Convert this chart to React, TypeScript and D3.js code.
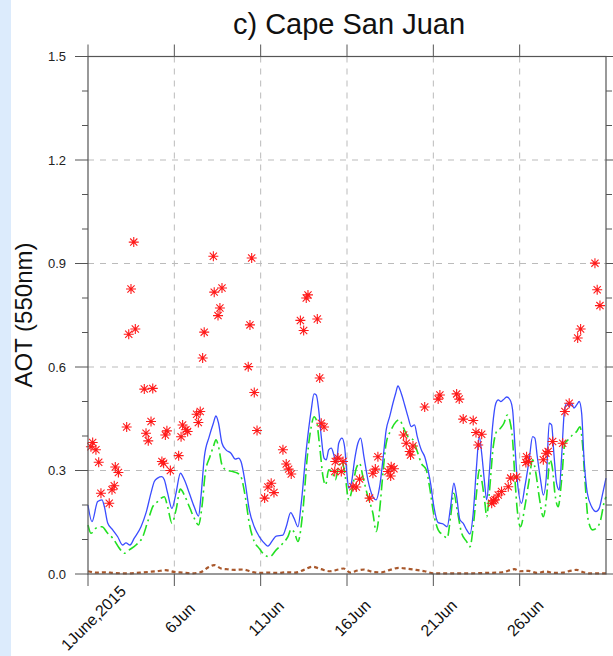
import React from 'react';
import * as d3 from 'd3';

const W = 613;
const H = 656;
const left = 88;
const right = 606;
const top = 56.5;
const bottom = 574;
const font = '"Liberation Sans", Arial, Helvetica, sans-serif';

// day offsets from 1 June 2015
const tickDays = [0, 5, 10, 15, 20, 25];
const tickLabels = ['1June,2015', '6Jun', '11Jun', '16Jun', '21Jun', '26Jun'];
const yTicks = [0, 0.3, 0.6, 0.9, 1.2, 1.5];
const yLabels = ['0.0', '0.3', '0.6', '0.9', '1.2', '1.5'];
const yMinor = [0.1, 0.2, 0.4, 0.5, 0.7, 0.8, 1.0, 1.1, 1.3, 1.4];

// model total AOT (blue solid)
const modelTotal: [number, number][] = [
  [0, 0.2], [0.23, 0.152], [0.56, 0.21], [0.81, 0.215], [0.95, 0.195], [1.14, 0.148], [1.43, 0.128],
  [1.72, 0.108], [2.0, 0.084], [2.2, 0.09], [2.43, 0.084], [2.68, 0.104], [3.07, 0.137], [3.36, 0.177],
  [3.65, 0.235], [3.84, 0.268], [4.03, 0.278], [4.28, 0.282], [4.42, 0.273], [4.61, 0.235], [4.86, 0.19],
  [5.1, 0.235], [5.35, 0.292], [5.58, 0.273], [5.87, 0.234], [6.15, 0.195], [6.4, 0.168], [6.54, 0.224],
  [6.74, 0.34], [7.02, 0.398], [7.26, 0.437], [7.41, 0.458], [7.56, 0.437], [7.76, 0.379], [7.99, 0.36],
  [8.28, 0.35], [8.53, 0.333], [8.72, 0.336], [8.86, 0.326], [9.11, 0.263], [9.34, 0.186], [9.63, 0.137],
  [9.9, 0.11], [10.13, 0.094], [10.42, 0.081], [10.71, 0.099], [10.9, 0.11], [11.29, 0.113], [11.48, 0.137],
  [11.74, 0.178], [11.93, 0.162], [12.16, 0.137], [12.35, 0.205], [12.64, 0.36], [12.93, 0.476],
  [13.09, 0.522], [13.22, 0.519], [13.36, 0.476], [13.51, 0.398], [13.67, 0.336], [13.8, 0.331],
  [13.94, 0.36], [14.09, 0.365], [14.24, 0.345], [14.38, 0.321], [14.52, 0.379], [14.71, 0.394],
  [14.86, 0.369], [14.96, 0.311], [15.1, 0.249], [15.25, 0.263], [15.44, 0.331], [15.63, 0.379],
  [15.79, 0.394], [15.98, 0.34], [16.21, 0.273], [16.5, 0.224], [16.69, 0.215], [16.89, 0.253],
  [17.08, 0.331], [17.27, 0.418], [17.47, 0.456], [17.66, 0.495], [17.82, 0.524], [17.95, 0.545],
  [18.14, 0.524], [18.34, 0.49], [18.53, 0.456], [18.72, 0.427], [18.91, 0.432], [19.07, 0.398],
  [19.3, 0.36], [19.5, 0.34], [19.69, 0.302], [19.85, 0.26], [20.0, 0.205], [20.28, 0.149], [20.57, 0.145],
  [20.8, 0.137], [21.0, 0.195], [21.19, 0.263], [21.35, 0.224], [21.54, 0.157], [21.73, 0.147],
  [21.93, 0.128], [22.12, 0.116], [22.31, 0.176], [22.5, 0.311], [22.66, 0.398], [22.8, 0.35],
  [22.95, 0.273], [23.09, 0.215], [23.24, 0.292], [23.43, 0.427], [23.62, 0.495], [23.76, 0.505],
  [23.9, 0.5], [24.05, 0.505], [24.25, 0.513], [24.44, 0.505], [24.59, 0.476], [24.73, 0.369],
  [24.86, 0.273], [25.11, 0.205], [25.3, 0.253], [25.55, 0.331], [25.75, 0.398], [25.88, 0.394],
  [26.02, 0.34], [26.21, 0.273], [26.37, 0.229], [26.56, 0.292], [26.71, 0.437], [26.85, 0.432],
  [26.98, 0.35], [27.14, 0.263], [27.29, 0.244], [27.43, 0.34], [27.58, 0.466], [27.72, 0.495],
  [27.87, 0.485], [28.01, 0.495], [28.14, 0.481], [28.3, 0.49], [28.45, 0.5], [28.59, 0.466],
  [28.72, 0.34], [28.92, 0.234], [29.17, 0.195], [29.42, 0.181], [29.61, 0.191], [29.81, 0.234], [30, 0.278],
];

// second model run (green dash-dot)
const modelAlt: [number, number][] = [
  [0, 0.142], [0.17, 0.118], [0.46, 0.133], [0.81, 0.137], [1.14, 0.118], [1.43, 0.104], [1.81, 0.075],
  [2.1, 0.06], [2.39, 0.07], [2.78, 0.084], [3.17, 0.108], [3.46, 0.152], [3.75, 0.195], [4.03, 0.21],
  [4.42, 0.224], [4.61, 0.195], [4.86, 0.147], [5.1, 0.186], [5.35, 0.246], [5.58, 0.229], [5.87, 0.195],
  [6.15, 0.162], [6.4, 0.142], [6.6, 0.195], [6.79, 0.292], [7.06, 0.34], [7.26, 0.369], [7.41, 0.389],
  [7.56, 0.369], [7.76, 0.316], [7.99, 0.302], [8.38, 0.297], [8.67, 0.292], [8.86, 0.282], [9.11, 0.224],
  [9.34, 0.147], [9.63, 0.094], [9.9, 0.075], [10.23, 0.055], [10.52, 0.05], [10.9, 0.07], [11.29, 0.089],
  [11.58, 0.108], [11.77, 0.13], [11.97, 0.118], [12.16, 0.094], [12.45, 0.186], [12.7, 0.34],
  [12.93, 0.427], [13.09, 0.456], [13.22, 0.447], [13.42, 0.369], [13.61, 0.282], [13.76, 0.258],
  [13.94, 0.302], [14.13, 0.297], [14.32, 0.273], [14.52, 0.311], [14.71, 0.326], [14.9, 0.282],
  [15.1, 0.215], [15.29, 0.244], [15.54, 0.307], [15.73, 0.321], [15.92, 0.282], [16.21, 0.224],
  [16.5, 0.176], [16.69, 0.123], [16.89, 0.186], [17.08, 0.292], [17.27, 0.379], [17.56, 0.418],
  [17.85, 0.442], [18.05, 0.447], [18.24, 0.427], [18.53, 0.398], [18.82, 0.389], [19.07, 0.355],
  [19.3, 0.321], [19.59, 0.302], [19.78, 0.253], [20.0, 0.18], [20.28, 0.128], [20.57, 0.113],
  [20.8, 0.104], [21.0, 0.166], [21.19, 0.234], [21.38, 0.186], [21.64, 0.118], [21.93, 0.094],
  [22.12, 0.079], [22.31, 0.137], [22.5, 0.234], [22.66, 0.302], [22.8, 0.273], [22.99, 0.205],
  [23.09, 0.166], [23.24, 0.234], [23.47, 0.369], [23.66, 0.413], [23.9, 0.423], [24.09, 0.437],
  [24.28, 0.461], [24.44, 0.442], [24.59, 0.389], [24.73, 0.273], [24.86, 0.186], [25.05, 0.137],
  [25.3, 0.195], [25.55, 0.273], [25.75, 0.331], [25.94, 0.292], [26.13, 0.224], [26.37, 0.166],
  [26.56, 0.224], [26.75, 0.331], [26.91, 0.302], [27.04, 0.234], [27.23, 0.195], [27.43, 0.273],
  [27.62, 0.379], [27.81, 0.389], [28.06, 0.403], [28.3, 0.413], [28.49, 0.427], [28.62, 0.389],
  [28.78, 0.273], [28.97, 0.157], [29.22, 0.128], [29.45, 0.133], [29.69, 0.157], [29.88, 0.205], [30, 0.224],
];

// small component near zero (brown dashed)
const modelSmall: [number, number][] = [
  [0, 0.008], [0.5, 0.004], [1, 0.005], [1.5, 0.003], [2, 0.002], [2.5, 0.002], [3, 0.004], [3.5, 0.006],
  [4, 0.008], [4.5, 0.011], [5, 0.006], [5.5, 0.004], [6, 0.002], [6.5, 0.005], [7, 0.02], [7.3, 0.026],
  [7.7, 0.016], [8, 0.014], [8.5, 0.012], [9, 0.013], [9.5, 0.006], [10, 0.003], [10.5, 0.004], [11, 0.003],
  [11.5, 0.005], [12, 0.004], [12.5, 0.012], [13, 0.021], [13.5, 0.014], [14, 0.008], [14.5, 0.013],
  [14.8, 0.016], [15.2, 0.004], [15.6, 0.01], [16, 0.013], [16.5, 0.006], [17, 0.005], [17.5, 0.012],
  [18, 0.018], [18.5, 0.015], [19, 0.012], [19.5, 0.008], [20, 0.002], [21, 0.002], [22, 0.002],
  [23, 0.003], [24, 0.005], [24.7, 0.014], [25, 0.008], [25.5, 0.009], [26, 0.003], [26.5, 0.007],
  [27, 0.003], [27.5, 0.004], [28, 0.01], [28.3, 0.012], [28.7, 0.005], [29, 0.002], [30, 0.002],
];

// AERONET observations (red asterisks)
const obs: [number, number][] = [
  [2.65, 0.962], [7.26, 0.921], [9.48, 0.916], [2.49, 0.826], [7.31, 0.817], [7.76, 0.829], [7.64, 0.771],
  [7.53, 0.749], [2.36, 0.695], [2.74, 0.71], [6.73, 0.701], [9.38, 0.722], [6.64, 0.626], [9.28, 0.601],
  [9.63, 0.526], [3.26, 0.536], [3.75, 0.538], [9.79, 0.416], [2.24, 0.426], [3.65, 0.442], [3.36, 0.408],
  [3.49, 0.386], [6.29, 0.463], [6.5, 0.471], [6.39, 0.439], [5.48, 0.432], [5.67, 0.418], [5.77, 0.413],
  [5.39, 0.398], [4.57, 0.415], [4.48, 0.403], [0.27, 0.381], [0.17, 0.369], [0.46, 0.36], [0.62, 0.324],
  [1.58, 0.31], [1.76, 0.294], [4.28, 0.326], [4.38, 0.321], [4.77, 0.3], [5.25, 0.343], [1.52, 0.256],
  [1.39, 0.244], [0.75, 0.234], [1.23, 0.205],
  [12.74, 0.809], [12.64, 0.8], [12.3, 0.735], [13.28, 0.739], [12.49, 0.706], [13.42, 0.568],
  [13.51, 0.437], [13.67, 0.426], [11.29, 0.36], [11.48, 0.319], [11.62, 0.304], [11.77, 0.29],
  [10.61, 0.263], [10.42, 0.252], [10.77, 0.236], [10.23, 0.22], [14.48, 0.336], [14.32, 0.326],
  [14.77, 0.326], [14.29, 0.297], [14.67, 0.297], [15.34, 0.253], [15.54, 0.252], [15.73, 0.275],
  [16.31, 0.22], [16.5, 0.292], [16.64, 0.304], [16.79, 0.34], [17.37, 0.297], [17.53, 0.284],
  [17.72, 0.305], [17.56, 0.311], [18.28, 0.403], [18.43, 0.379], [18.63, 0.355], [18.82, 0.371],
  [18.68, 0.345], [19.5, 0.484],
  [20.38, 0.519], [20.28, 0.507], [21.35, 0.522], [21.5, 0.507], [21.73, 0.449], [22.31, 0.445],
  [22.47, 0.41], [22.8, 0.405], [22.6, 0.374], [23.38, 0.205], [23.48, 0.212], [23.57, 0.215],
  [23.76, 0.229], [23.95, 0.239], [24.34, 0.253], [24.48, 0.278], [24.82, 0.281], [25.4, 0.34],
  [25.5, 0.326], [25.36, 0.323], [26.37, 0.331], [26.52, 0.35], [26.65, 0.355], [26.91, 0.384],
  [27.49, 0.379], [27.62, 0.471], [27.87, 0.495], [28.53, 0.71], [28.36, 0.684], [29.36, 0.901],
  [29.49, 0.824], [29.65, 0.778],
];

const x = d3.scaleLinear().domain([0, 30]).range([left, right]);
const y = d3.scaleLinear().domain([0, 1.5]).range([bottom, top]);

const line = d3
  .line<[number, number]>()
  .x(d => x(d[0]))
  .y(d => y(d[1]))
  .curve(d3.curveMonotoneX);

const star = 'M-5,0H5M0,-5V5M-3.6,-3.6L3.6,3.6M-3.6,3.6L3.6,-3.6';

export default function App() {
  const axisColor = '#555';
  return (
    <div style={{ position: 'absolute', left: 0, top: 0 }}>
      <svg width={W} height={H} style={{ display: 'block', background: '#fff' }}>
        <rect x={0} y={0} width={11} height={H} fill="#dcebfc" />

        {/* grid */}
        {tickDays.slice(1).map(d => (
          <line key={'gx' + d} x1={x(d)} x2={x(d)} y1={top} y2={bottom}
            stroke="#bbb" strokeDasharray="6,6" />
        ))}
        {yTicks.slice(1, -1).map(v => (
          <line key={'gy' + v} x1={left} x2={right} y1={y(v)} y2={y(v)}
            stroke="#bbb" strokeDasharray="6,6" />
        ))}

        {/* series */}
        <path d={line(modelSmall) || ''} fill="none" stroke="#a9582c" strokeWidth={2.2}
          strokeDasharray="4,3" />
        <path d={line(modelAlt) || ''} fill="none" stroke="#22e022" strokeWidth={1.6}
          strokeDasharray="11,4,2,4" />
        <path d={line(modelTotal) || ''} fill="none" stroke="#3a4cff" strokeWidth={1.3} />

        {obs.map((d, i) => (
          <path key={'o' + i} d={star} transform={`translate(${x(d[0])},${y(d[1])})`}
            stroke="#ff1a1a" strokeWidth={1.1} fill="none" />
        ))}

        {/* frame */}
        <rect x={left} y={top} width={right - left} height={bottom - top} fill="none"
          stroke={axisColor} strokeWidth={1.2} />

        {/* y ticks, left and right */}
        {yTicks.map((v, i) => (
          <g key={'yt' + v}>
            <line x1={left - 13} x2={left} y1={y(v)} y2={y(v)} stroke={axisColor} />
            <line x1={right} x2={right + 13} y1={y(v)} y2={y(v)} stroke={axisColor} />
            <text x={66} y={y(v)} dy="0.35em" textAnchor="end" fontSize={13}
              fontFamily={font} fill="#222">{yLabels[i]}</text>
          </g>
        ))}
        {yMinor.map(v => (
          <g key={'ym' + v}>
            <line x1={left - 6} x2={left} y1={y(v)} y2={y(v)} stroke={axisColor} />
            <line x1={right} x2={right + 6} y1={y(v)} y2={y(v)} stroke={axisColor} />
          </g>
        ))}

        {/* x ticks, top and bottom */}
        {tickDays.map((d, i) => (
          <g key={'xt' + d}>
            <line x1={x(d)} x2={x(d)} y1={top - 12} y2={top} stroke={axisColor} />
            <line x1={x(d)} x2={x(d)} y1={bottom} y2={bottom + 12} stroke={axisColor} />
            <text transform={`translate(${x(d) + 5.5},618) rotate(-45)`} textAnchor="middle"
              dominantBaseline="central" fontSize={16} fontFamily={font} fill="#111">
              {tickLabels[i]}
            </text>
          </g>
        ))}

        <text x={349} y={34} textAnchor="middle" fontSize={29} fontFamily={font} fill="#111">
          c) Cape San Juan
        </text>
        <text transform="translate(32,315) rotate(-90)" textAnchor="middle" fontSize={24}
          fontFamily={font} fill="#111">
          AOT (550nm)
        </text>
      </svg>
    </div>
  );
}
